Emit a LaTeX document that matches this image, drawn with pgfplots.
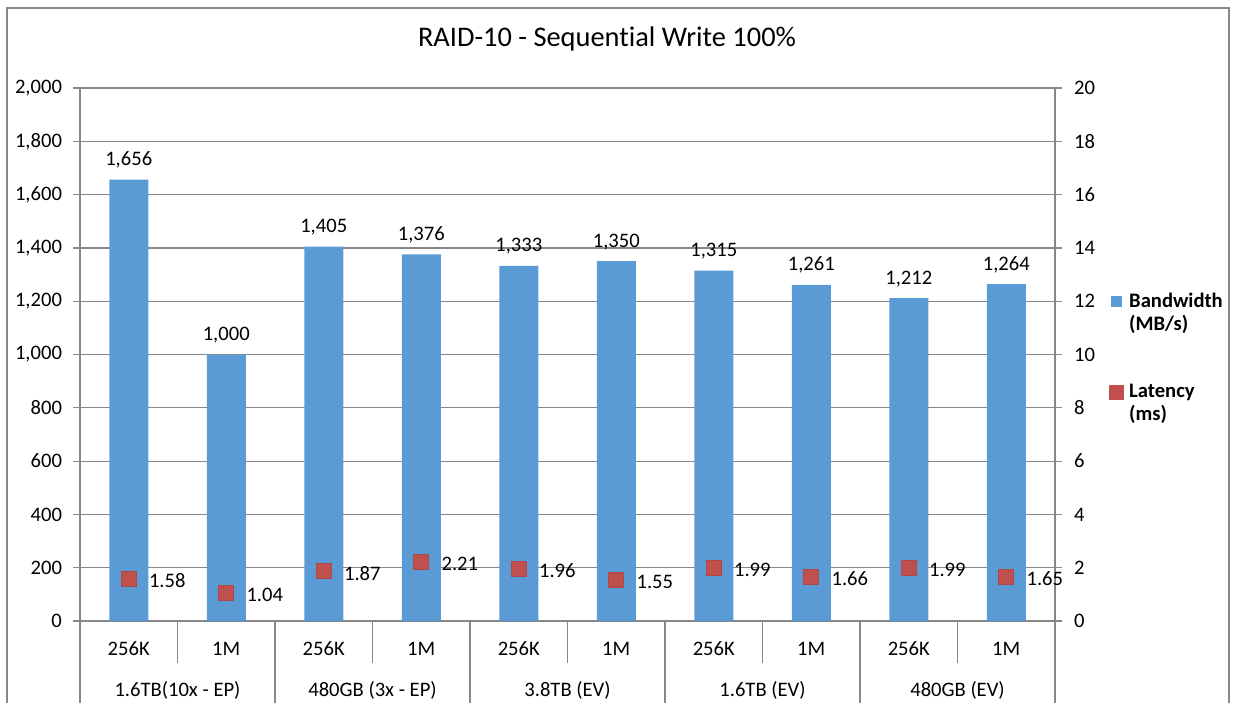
\documentclass[border=0pt]{standalone}
\usepackage{pgfplots}
\usepackage{pgfplotstable}
\pgfplotsset{compat=1.18}
\usepackage{fontspec}
\setmainfont[Ligatures=NoCommon]{Carlito}

\definecolor{bwblue}{HTML}{5B9BD5}
\definecolor{latred}{HTML}{C0504D}
\definecolor{gridc}{HTML}{878787}

\newcommand\lbl{\fontsize{10.3}{11.5}\selectfont}

% bandwidth (MB/s) and latency (ms) per configuration
\pgfplotstableread{
idx bw   lat
0   1656 1.58
1   1000 1.04
2   1405 1.87
3   1376 2.21
4   1333 1.96
5   1350 1.55
6   1315 1.99
7   1261 1.66
8   1212 1.99
9   1264 1.65
}\raidtable

\begin{document}
\begin{tikzpicture}[x=0.5pt,y=0.5pt]
\useasboundingbox (0,0) rectangle (1235,702);
% chart frame
\draw[gridc, line width=0.6pt] (7,-10) -- (7,694) -- (1229,694) -- (1229,-10);
\node[font=\fontsize{14.2}{17}\selectfont, anchor=base] at (607,655)
  {RAID-10 - Sequential Write 100\%};

\begin{axis}[
  at={(40pt,40.5pt)}, anchor=south west,
  scale only axis, width=487.5pt, height=266.5pt,
  xmin=-0.5, xmax=9.5, ymin=0, ymax=2000,
  ytick={0,200,...,2000},
  xtick={0,...,9},
  xticklabels={256K,1M,256K,1M,256K,1M,256K,1M,256K,1M},
  xtick style={draw=none},
  axis y line*=left, axis x line*=bottom,
  axis line style={gridc, line width=0.6pt},
  ymajorgrids, grid style={gridc, line width=0.6pt},
  tick align=outside, major tick length=3.5pt,
  ytick style={gridc, line width=0.6pt},
  tick label style={font=\lbl, text=black},
  xticklabel style={anchor=base, yshift=-13.8pt},
  yticklabel style={anchor=east, xshift=-2pt},
  /pgf/number format/1000 sep={,},
  /pgf/number format/assume math mode=true,
  clip=false,
]
\addplot[ybar, bar width=0.4, fill=bwblue, draw=none,
  nodes near coords,
  every node near coord/.append style={anchor=base, yshift=7pt, inner sep=0pt, font=\lbl, text=black}]
  table[x=idx, y=bw] {\raidtable};

% category separators
\pgfplotsinvokeforeach{0.5,2.5,4.5,6.5,8.5}{
  \draw[gridc, line width=0.6pt] (axis cs:#1,0) -- ++(0pt,-21pt);
}
\pgfplotsinvokeforeach{-0.5,1.5,3.5,5.5,7.5,9.5}{
  \draw[gridc, line width=0.6pt] (axis cs:#1,0) -- ++(0pt,-42pt);
}
% group labels
\node[font=\lbl, anchor=base, yshift=-37.5pt] at (axis cs:0.5,0) {1.6TB(10x - EP)};
\node[font=\lbl, anchor=base, yshift=-37.5pt] at (axis cs:2.5,0) {480GB (3x - EP)};
\node[font=\lbl, anchor=base, yshift=-37.5pt] at (axis cs:4.5,0) {3.8TB (EV)};
\node[font=\lbl, anchor=base, yshift=-37.5pt] at (axis cs:6.5,0) {1.6TB (EV)};
\node[font=\lbl, anchor=base, yshift=-37.5pt] at (axis cs:8.5,0) {480GB (EV)};
\end{axis}

\begin{axis}[
  at={(40pt,40.5pt)}, anchor=south west,
  scale only axis, width=487.5pt, height=266.5pt,
  xmin=-0.5, xmax=9.5, ymin=0, ymax=20,
  ytick={0,2,...,20},
  axis x line=none, axis y line*=right,
  axis line style={gridc, line width=0.6pt},
  tick align=outside, major tick length=3.5pt,
  ytick style={gridc, line width=0.6pt},
  tick label style={font=\lbl, text=black},
  yticklabel style={anchor=west, xshift=2.5pt},
  /pgf/number format/assume math mode=true,
  clip=false,
  legend cell align=left,
  legend style={at={(axis description cs:1.0554,0.4925)}, anchor=west,
    draw=none, fill=none, inner sep=0pt, column sep=2.5pt, row sep=25.5pt,
    font=\lbl\bfseries, nodes={inner sep=0pt, text=black}},
]
\addlegendimage{legend image code/.code={
    \path (0pt,-8.25pt) (0pt,8.25pt) (-3.5pt,0pt) (3.5pt,0pt);
    \fill[bwblue] (-2.5pt,3.25pt) rectangle (2.5pt,8.25pt);}}
\addlegendentry[align=left]{Bandwidth\\(MB/s)}
\addplot[only marks, mark=square*, mark size=3.75pt,
  mark options={fill=latred, draw=latred!90!black, line width=0.3pt},
  point meta=y,
  nodes near coords={\pgfmathprintnumber[fixed, fixed zerofill, precision=2]{\pgfplotspointmeta}},
  every node near coord/.append style={anchor=west, xshift=10pt, yshift=-1pt, inner sep=0pt, font=\lbl, text=black},
  legend image code/.code={
    \path (0pt,-9.25pt) (0pt,9.25pt);
    \fill[latred] (-3.5pt,2.25pt) rectangle (3.5pt,9.25pt);}]
  table[x=idx, y=lat] {\raidtable};
\addlegendentry[align=left]{Latency\\(ms)}
\end{axis}
\end{tikzpicture}
\end{document}
